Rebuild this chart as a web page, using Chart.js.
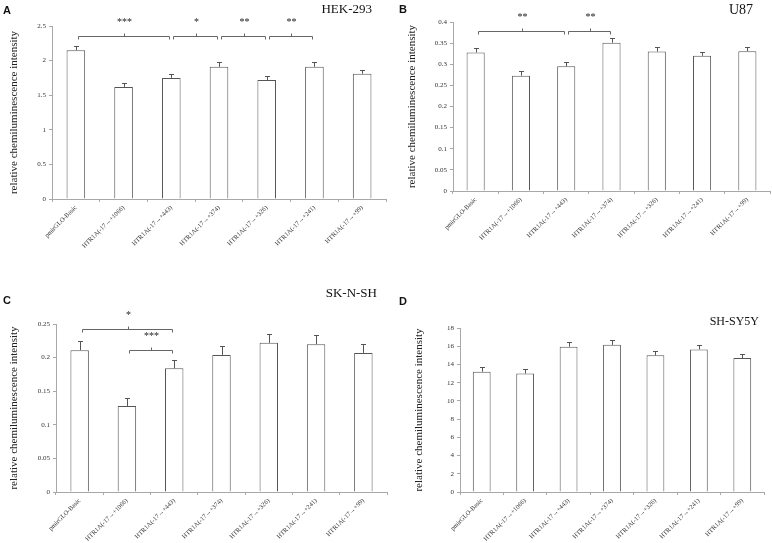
<!DOCTYPE html>
<html>
<head>
<meta charset="utf-8">
<script src="https://cdn.jsdelivr.net/npm/chart.js@4/dist/chart.umd.min.js"></script>
<style>
  html, body { margin:0; padding:0; background:#fff; }
  #wrap { position:relative; width:772px; height:543px; overflow:hidden; background:#fff; }
  .panel { position:absolute; }
  .letter { position:absolute; font-family:"Liberation Sans", Arial, sans-serif; font-weight:bold; font-size:11px; line-height:11px; color:#111; }
  .cell { position:absolute; font-family:"Liberation Serif", "Times New Roman", serif; line-height:1; color:#111; white-space:nowrap; }
</style>
</head>
<body>
<div id="wrap">
  <div class="panel" style="left:0;top:0;width:390px;height:270px;"><canvas id="cA"></canvas></div>
  <div class="panel" style="left:386px;top:0;width:386px;height:270px;"><canvas id="cB"></canvas></div>
  <div class="panel" style="left:0;top:270px;width:390px;height:273px;"><canvas id="cC"></canvas></div>
  <div class="panel" style="left:386px;top:270px;width:386px;height:273px;"><canvas id="cD"></canvas></div>

  <div class="letter" style="left:3px;top:5px;">A</div>
  <div class="letter" style="left:399px;top:4px;">B</div>
  <div class="letter" style="left:3px;top:295px;">C</div>
  <div class="letter" style="left:399px;top:296px;">D</div>

  <div class="cell" style="right:400px;top:2px;font-size:13px;">HEK-293</div>
  <div class="cell" style="right:19px;top:3px;font-size:14px;">U87</div>
  <div class="cell" style="right:395px;top:286px;font-size:13px;">SK-N-SH</div>
  <div class="cell" style="right:13px;top:315px;font-size:12px;">SH-SY5Y</div>
</div>
<script>
// ---------------- data ----------------
const categories = [
  'pmirGLO-Basic',
  'HTR1A(-17\u2192+1066)',
  'HTR1A(-17\u2192+443)',
  'HTR1A(-17\u2192+374)',
  'HTR1A(-17\u2192+326)',
  'HTR1A(-17\u2192+241)',
  'HTR1A(-17\u2192+99)'
];
const yTitle = 'relative chemiluminescence intensity';

const valuesA = [2.15, 1.62, 1.75, 1.91, 1.72, 1.91, 1.81];
const errorsA = [0.06, 0.06, 0.06, 0.07, 0.06, 0.07, 0.06];
const ticksA = { min: 0, max: 2.5, step: 0.5 };
const bracketsA = [
  { from: 0, to: 2, level: 2.36, label: '***' },
  { from: 2, to: 3, level: 2.36, label: '*' },
  { from: 3, to: 4, level: 2.36, label: '**' },
  { from: 4, to: 5, level: 2.36, label: '**' }
];

const valuesB = [0.328, 0.273, 0.295, 0.351, 0.330, 0.320, 0.331];
const errorsB = [0.010, 0.010, 0.010, 0.011, 0.010, 0.010, 0.010];
const ticksB = { min: 0, max: 0.4, step: 0.05 };
const bracketsB = [
  { from: 0, to: 2, level: 0.379, label: '**' },
  { from: 2, to: 3, level: 0.379, label: '**' }
];

const valuesC = [0.211, 0.128, 0.184, 0.204, 0.222, 0.220, 0.207];
const errorsC = [0.013, 0.012, 0.012, 0.013, 0.013, 0.013, 0.013];
const ticksC = { min: 0, max: 0.25, step: 0.05 };
const bracketsC = [
  { from: 0, to: 2, level: 0.243, label: '*' },
  { from: 1, to: 2, level: 0.212, label: '***' }
];

const valuesD = [13.2, 13.0, 15.95, 16.15, 15.0, 15.65, 14.7];
const errorsD = [0.5, 0.5, 0.5, 0.5, 0.5, 0.5, 0.5];
const ticksD = { min: 0, max: 18, step: 2 };
const bracketsD = [];

// ---------------- drawing ----------------
const SERIF = '"Liberation Serif", "Times New Roman", serif';
const AXIS = '#a8a8a8';
const BAR = '#555555';

const annotPlugin = {
  id: 'annot',
  afterDatasetsDraw(chart, args, opts) {
    const ctx = chart.ctx;
    const xs = chart.scales.x, ys = chart.scales.y;
    const vals = chart.data.datasets[0].data;
    ctx.save();
    // error bars (upper half)
    ctx.strokeStyle = BAR;
    ctx.lineWidth = 1;
    (opts.errors || []).forEach((e, i) => {
      const x = Math.round(xs.getPixelForValue(i)) + 0.5;
      const y0 = ys.getPixelForValue(vals[i]);
      const y1 = Math.round(ys.getPixelForValue(vals[i] + e)) + 0.5;
      ctx.beginPath();
      ctx.moveTo(x, y0);
      ctx.lineTo(x, y1);
      ctx.moveTo(x - 2.5, y1);
      ctx.lineTo(x + 2.5, y1);
      ctx.stroke();
    });
    // significance brackets
    ctx.strokeStyle = '#666';
    ctx.fillStyle = '#222';
    ctx.font = '10px ' + SERIF;
    ctx.textAlign = 'center';
    ctx.textBaseline = 'middle';
    (opts.brackets || []).forEach(b => {
      const x1 = Math.round(xs.getPixelForValue(b.from)) + 2.5;
      const x2 = Math.round(xs.getPixelForValue(b.to)) - 1.5;
      const y = Math.round(ys.getPixelForValue(b.level)) + 0.5;
      const mid = Math.round((x1 + x2) / 2) + 0.5;
      ctx.beginPath();
      ctx.moveTo(x1, y + 3);
      ctx.lineTo(x1, y);
      ctx.lineTo(x2, y);
      ctx.lineTo(x2, y + 3);
      ctx.moveTo(mid, y);
      ctx.lineTo(mid, y - 3);
      ctx.stroke();
      ctx.fillText(b.label, mid, y - 14);
    });
    ctx.restore();
  }
};

function fmt(v) { return String(parseFloat(Number(v).toFixed(4))); }

function makeChart(id, values, errors, ticks, brackets, L) {
  return new Chart(document.getElementById(id), {
    type: 'bar',
    data: {
      labels: categories,
      datasets: [{
        data: values,
        backgroundColor: '#ffffff',
        borderColor: BAR,
        borderWidth: 1,
        barPercentage: L.bar,
        categoryPercentage: 1
      }]
    },
    options: {
      responsive: true,
      maintainAspectRatio: false,
      animation: false,
      events: [],
      layout: { padding: { top: L.top, right: L.right, left: 0, bottom: 0 } },
      plugins: {
        legend: { display: false },
        tooltip: { enabled: false },
        annot: { errors: errors, brackets: brackets }
      },
      scales: {
        x: {
          ticks: {
            font: { family: SERIF, size: 6.5 },
            color: '#333',
            minRotation: 45, maxRotation: 45,
            autoSkip: false,
            padding: 2
          },
          grid: { display: true, drawOnChartArea: false, drawTicks: true, tickLength: 3, color: AXIS, offset: true },
          border: { color: AXIS },
          afterFit(s) { s.height = L.xh; }
        },
        y: {
          min: ticks.min, max: ticks.max,
          ticks: {
            stepSize: ticks.step,
            font: { family: SERIF, size: 7 },
            color: '#333',
            padding: 3,
            callback: (v) => fmt(v)
          },
          grid: { display: true, drawOnChartArea: false, drawTicks: true, tickLength: 3, color: AXIS },
          border: { color: AXIS },
          title: {
            display: true,
            text: yTitle,
            font: { family: SERIF, size: 11 },
            color: '#222',
            padding: { top: L.tpad, bottom: 0 }
          },
          afterFit(s) { s.width = L.yw; }
        }
      }
    },
    plugins: [annotPlugin]
  });
}

makeChart('cA', valuesA, errorsA, ticksA, bracketsA, { top: 26, right: 4, xh: 71, yw: 52, tpad: 7.7, bar: 0.39 });
makeChart('cB', valuesB, errorsB, ticksB, bracketsB, { top: 22, right: 2, xh: 79, yw: 67, tpad: 19.5, bar: 0.40 });
makeChart('cC', valuesC, errorsC, ticksC, bracketsC, { top: 54, right: 3, xh: 51, yw: 56, tpad: 7.7, bar: 0.39 });
makeChart('cD', valuesD, errorsD, ticksD, bracketsD, { top: 58, right: 8, xh: 51, yw: 74, tpad: 26.7, bar: 0.41 });
</script>
</body>
</html>
